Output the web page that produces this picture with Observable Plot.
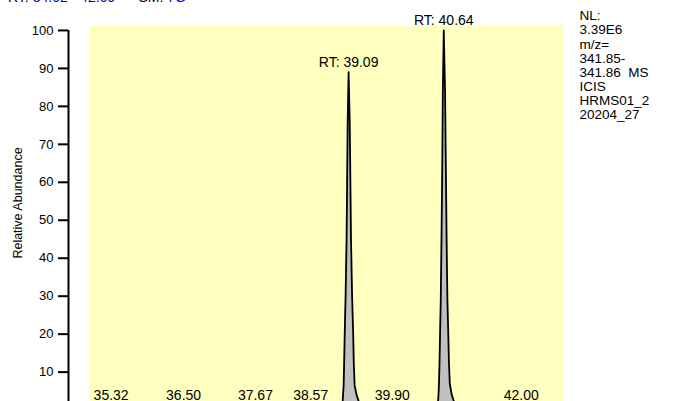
<!DOCTYPE html>
<html>
<head>
<meta charset="utf-8">
<script src="https://cdn.jsdelivr.net/npm/d3@7"></script>
<script src="https://cdn.jsdelivr.net/npm/@observablehq/plot@0.6"></script>
<style>
  html, body { margin: 0; padding: 0; background: #fff; overflow: hidden; }
  #wrap { position: relative; width: 674px; height: 401px; }
  #header { position: absolute; left: 8px; top: -10px; font: 14px/14px "Liberation Sans", Arial, sans-serif; white-space: pre; color: #000; }
  #header .b { color: #0000c8; }
</style>
</head>
<body>
<div id="wrap">
  <div id="chart"></div>
  <div id="header">RT: <span class="b">34.62 - 42.60</span>      SM: <span class="b">7G</span></div>
</div>
<script>
// Retention time (min) and relative abundance (%) of the trace
const rt = [34.62,
  38.960, 38.992, 39.000, 39.009, 39.017, 39.028, 39.041, 39.057, 39.066, 39.075, 39.090,
  39.108, 39.119, 39.129, 39.147, 39.163, 39.175, 39.188, 39.220, 39.261, 39.302,
  40.510, 40.546, 40.554, 40.562, 40.570, 40.581, 40.591, 40.603, 40.616, 40.625, 40.640,
  40.661, 40.673, 40.686, 40.699, 40.712, 40.725, 40.738, 40.770, 40.811, 40.852,
  42.60];
const abundance = [0,
  0, 2, 4, 6.5, 12, 21, 30, 45, 60, 76, 89,
  76, 60, 45, 30, 21, 12, 6.5, 4, 2, 0,
  0, 2, 4, 7, 12, 21, 29, 45, 65, 84, 100,
  84, 65, 45, 29, 21, 12, 7, 4, 2, 0,
  0];

// Labelled main peaks
const peakRT = [39.09, 40.64];
const peakValue = [89, 100];

// Labelled minor peaks (labels along the bottom)
const minorRT = [35.32, 36.50, 37.67, 38.57, 39.90, 42.00];

// Y axis ticks
const yTicks = [10, 20, 30, 40, 50, 60, 70, 80, 90, 100];

// Visible window of the scales
const xDomain = [34.87, 42.59];
const yDomain = [2.26, 101.3];

// Side annotation
const infoLines1 = ["NL:", "3.39E6"];
const infoLines2 = ["m/z=", "341.85-", "341.86  MS", "ICIS", "HRMS01_2", "20204_27"];

const yLabel = "Relative Abundance";

const trace = rt.map((t, i) => ({rt: t, abundance: abundance[i]}));
const peaks = peakRT.map((t, i) => ({rt: t, abundance: peakValue[i]}));

const font = "'Liberation Sans', Arial, sans-serif";

const chart = Plot.plot({
  width: 674,
  height: 401,
  marginLeft: 89,
  marginRight: 111,
  marginTop: 25,
  marginBottom: 0,
  style: {fontFamily: font, fontSize: "13px", background: "white", overflow: "visible"},
  x: {domain: xDomain, axis: null},
  y: {domain: yDomain, axis: null},
  marks: [
    Plot.frame({fill: "#ffffc0", stroke: null}),
    Plot.areaY(trace, {x: "rt", y: "abundance", fill: "#c0c0c0", clip: true}),
    Plot.lineY(trace, {x: "rt", y: "abundance", stroke: "black", strokeWidth: 1.8, strokeLinejoin: "round", clip: true}),
    Plot.ruleX([xDomain[0]], {y1: d3.max(yTicks), y2: yDomain[0], dx: -21, stroke: "black", strokeWidth: 2}),
    Plot.axisY(yTicks, {anchor: "left", tickSize: 10, tickPadding: 5, dx: -21, strokeWidth: 2, fontSize: 13, label: null, fill: "black"}),
    Plot.text([yLabel], {frameAnchor: "left", rotate: -90, textAnchor: "middle", lineAnchor: "middle", dx: -72, dy: -10.5, fontSize: 12.5, fill: "black"}),
    Plot.text(peaks, {x: "rt", y: "abundance", text: d => "RT: " + d.rt.toFixed(2), lineAnchor: "bottom", dy: -5, fontSize: 14, fill: "black"}),
    Plot.text(minorRT, {x: d => d, frameAnchor: "bottom", text: d => d.toFixed(2), lineAnchor: "bottom", dx: -6, dy: -2, fontSize: 14, fill: "black"}),
    Plot.text([infoLines1.join("\n")], {frameAnchor: "top-right", textAnchor: "start", lineAnchor: "top", dx: 16, dy: -15, lineHeight: 14 / 13.5, fontSize: 13.5, fill: "black"}),
    Plot.text([infoLines2.join("\n")], {frameAnchor: "top-right", textAnchor: "start", lineAnchor: "top", dx: 16, dy: 13.5, lineHeight: 14 / 13.5, fontSize: 13.5, fill: "black"})
  ]
});
document.getElementById("chart").appendChild(chart);
</script>
</body>
</html>
